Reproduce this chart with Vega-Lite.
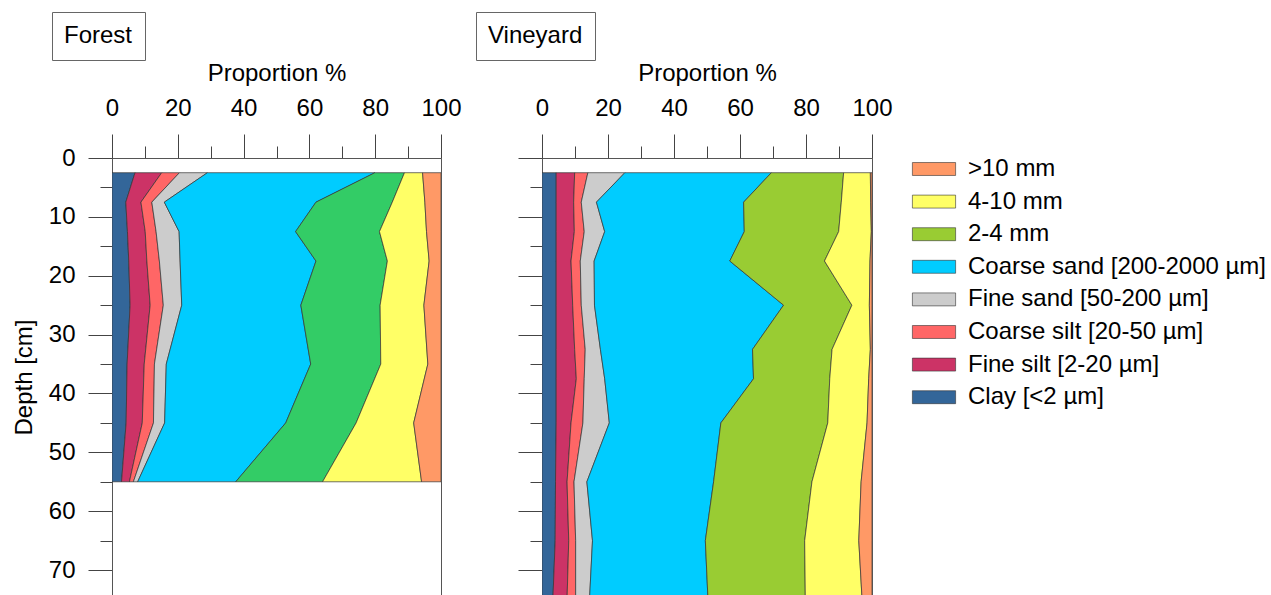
{
  "$schema": "https://vega.github.io/schema/vega-lite/v6.json",
  "background": "white",
  "padding": {"left": 11, "top": 11, "right": 5, "bottom": 0},
  "datasets": {
    "soil": [
      {"site": "Forest", "depth": 2.5, "clay": 7.0, "fsilt": 8.1, "csilt": 5.4, "fsand": 8.5, "csand": 50.9, "g2_4": 9.0, "g4_10": 5.5, "g10": 5.6},
      {"site": "Forest", "depth": 7.5, "clay": 4.2, "fsilt": 4.6, "csilt": 3.3, "fsand": 3.8, "csand": 46.1, "g2_4": 23.2, "g4_10": 9.9, "g10": 4.9},
      {"site": "Forest", "depth": 12.5, "clay": 4.7, "fsilt": 5.4, "csilt": 3.3, "fsand": 7.0, "csand": 35.4, "g2_4": 25.5, "g4_10": 14.3, "g10": 4.4},
      {"site": "Forest", "depth": 17.5, "clay": 5.1, "fsilt": 5.5, "csilt": 3.8, "fsand": 6.3, "csand": 41.3, "g2_4": 21.7, "g4_10": 12.7, "g10": 3.6},
      {"site": "Forest", "depth": 25, "clay": 5.5, "fsilt": 6.1, "csilt": 4.0, "fsand": 5.6, "csand": 36.2, "g2_4": 24.1, "g4_10": 13.3, "g10": 5.2},
      {"site": "Forest", "depth": 35, "clay": 4.6, "fsilt": 5.2, "csilt": 3.1, "fsand": 3.6, "csand": 43.9, "g2_4": 21.3, "g4_10": 14.3, "g10": 4.0},
      {"site": "Forest", "depth": 45, "clay": 4.3, "fsilt": 4.9, "csilt": 3.4, "fsand": 3.4, "csand": 36.8, "g2_4": 21.4, "g4_10": 17.5, "g10": 8.3},
      {"site": "Forest", "depth": 55, "clay": 2.9, "fsilt": 2.4, "csilt": 1.2, "fsand": 1.3, "csand": 29.8, "g2_4": 26.4, "g4_10": 30.1, "g10": 5.9},
      {"site": "Vineyard", "depth": 2.5, "clay": 4.3, "fsilt": 5.6, "csilt": 4.0, "fsand": 11.2, "csand": 44.4, "g2_4": 21.9, "g4_10": 8.1, "g10": 0.5},
      {"site": "Vineyard", "depth": 7.5, "clay": 4.3, "fsilt": 5.3, "csilt": 2.3, "fsand": 4.6, "csand": 44.6, "g2_4": 29.6, "g4_10": 8.9, "g10": 0.4},
      {"site": "Vineyard", "depth": 12.5, "clay": 4.3, "fsilt": 5.5, "csilt": 3.0, "fsand": 6.2, "csand": 42.3, "g2_4": 28.6, "g4_10": 9.9, "g10": 0.2},
      {"site": "Vineyard", "depth": 17.5, "clay": 4.3, "fsilt": 4.5, "csilt": 2.8, "fsand": 4.2, "csand": 41.1, "g2_4": 28.7, "g4_10": 13.8, "g10": 0.6},
      {"site": "Vineyard", "depth": 25, "clay": 4.3, "fsilt": 5.0, "csilt": 2.6, "fsand": 4.0, "csand": 57.3, "g2_4": 20.7, "g4_10": 5.3, "g10": 0.8},
      {"site": "Vineyard", "depth": 32.5, "clay": 4.3, "fsilt": 5.6, "csilt": 3.2, "fsand": 4.6, "csand": 46.1, "g2_4": 24.1, "g4_10": 11.6, "g10": 0.5},
      {"site": "Vineyard", "depth": 37.5, "clay": 4.3, "fsilt": 6.1, "csilt": 2.4, "fsand": 6.2, "csand": 45.1, "g2_4": 23.1, "g4_10": 11.8, "g10": 1.0},
      {"site": "Vineyard", "depth": 45, "clay": 4.3, "fsilt": 4.5, "csilt": 3.6, "fsand": 8.0, "csand": 33.8, "g2_4": 32.4, "g4_10": 11.9, "g10": 1.5},
      {"site": "Vineyard", "depth": 55, "clay": 4.1, "fsilt": 3.5, "csilt": 2.1, "fsand": 3.9, "csand": 38.4, "g2_4": 29.8, "g4_10": 14.9, "g10": 3.3},
      {"site": "Vineyard", "depth": 65, "clay": 4.0, "fsilt": 4.1, "csilt": 2.1, "fsand": 5.1, "csand": 34.2, "g2_4": 30.1, "g4_10": 16.4, "g10": 4.0},
      {"site": "Vineyard", "depth": 75, "clay": 3.3, "fsilt": 4.3, "csilt": 2.6, "fsand": 4.2, "csand": 35.9, "g2_4": 29.5, "g4_10": 17.2, "g10": 3.0}
    ],
    "fractions": [
      {"k": "clay", "name": "Clay [<2 µm]", "ord": 1},
      {"k": "fsilt", "name": "Fine silt [2-20 µm]", "ord": 2},
      {"k": "csilt", "name": "Coarse silt [20-50 µm]", "ord": 3},
      {"k": "fsand", "name": "Fine sand [50-200 µm]", "ord": 4},
      {"k": "csand", "name": "Coarse sand [200-2000 µm]", "ord": 5},
      {"k": "g2_4", "name": "2-4 mm", "ord": 6},
      {"k": "g4_10", "name": "4-10 mm", "ord": 7},
      {"k": "g10", "name": ">10 mm", "ord": 8}
    ]
  },
  "data": {"name": "soil"},
  "transform": [
    {"fold": ["clay", "fsilt", "csilt", "fsand", "csand", "g2_4", "g4_10", "g10"], "as": ["k", "pct"]},
    {"lookup": "k", "from": {"data": {"name": "fractions"}, "key": "k", "fields": ["name", "ord"]}}
  ],
  "spacing": 13,
  "resolve": {"scale": {"color": "independent", "shape": "independent"}, "legend": {"color": "independent", "shape": "independent"}},
  "hconcat": [
    {
      "width": 329,
      "height": 438,
      "transform": [{"filter": "datum.site === 'Forest'"}],
      "encoding": {
        "y": {"field": "depth", "type": "quantitative",
          "scale": {"domain": [0, 74.4], "reverse": true, "nice": false, "zero": false},
          "axis": {"orient": "left", "title": "Depth [cm]", "values": [0,5,10,15,20,25,30,35,40,45,50,55,60,65,70],
            "tickSize": {"condition": {"test": "datum.value % 10 === 0", "value": 24}, "value": 12},
            "labelExpr": "datum.value % 10 === 0 ? datum.label : ''", "labelPadding": 13, "titlePadding": 12}},
        "x": {"field": "pct", "type": "quantitative", "stack": "zero",
          "scale": {"domain": [0, 100], "nice": false},
          "axis": {"orient": "top", "title": "Proportion %", "values": [0,10,20,30,40,50,60,70,80,90,100],
            "tickSize": {"condition": {"test": "datum.value % 20 === 0", "value": 24}, "value": 12},
            "labelExpr": "datum.value % 20 === 0 ? datum.label : ''", "labelPadding": 14, "titlePadding": 11}}
      },
      "layer": [
        {
          "mark": {"type": "area", "orient": "horizontal", "stroke": "#333", "strokeWidth": 0.7, "clip": true},
          "encoding": {
            "color": {"field": "name", "type": "nominal",
              "scale": {"domain": [">10 mm", "4-10 mm", "2-4 mm", "Coarse sand [200-2000 µm]", "Fine sand [50-200 µm]", "Coarse silt [20-50 µm]", "Fine silt [2-20 µm]", "Clay [<2 µm]"],
                "range": ["#FF9966", "#FFFF66", "#33CC66", "#00CCFF", "#CCCCCC", "#FF6666", "#CC3366", "#336699"]},
              "legend": null},
            "order": {"field": "ord", "type": "quantitative", "sort": "ascending"}
          }
        },
        {
          "mark": {"type": "point", "opacity": 0, "clip": true},
          "encoding": {
            "shape": {"field": "site", "type": "nominal",
              "legend": {"orient": "none", "legendX": -60, "legendY": -146, "title": null, "strokeColor": "#666", "fillColor": "white", "padding": 12,
                "symbolSize": 0, "symbolOpacity": 0, "symbolStrokeWidth": 0, "labelOffset": -24, "labelFontSize": 24, "labelColor": "black", "labelLimit": 0}}
          }
        }
      ]
    },
    {
      "width": 330,
      "height": 438,
      "transform": [{"filter": "datum.site === 'Vineyard'"}],
      "encoding": {
        "y": {"field": "depth", "type": "quantitative",
          "scale": {"domain": [0, 74.4], "reverse": true, "nice": false, "zero": false},
          "axis": {"orient": "left", "title": null, "labels": false, "values": [0,5,10,15,20,25,30,35,40,45,50,55,60,65,70],
            "tickSize": {"condition": {"test": "datum.value % 10 === 0", "value": 24}, "value": 12}}},
        "x": {"field": "pct", "type": "quantitative", "stack": "zero",
          "scale": {"domain": [0, 100], "nice": false},
          "axis": {"orient": "top", "title": "Proportion %", "values": [0,10,20,30,40,50,60,70,80,90,100],
            "tickSize": {"condition": {"test": "datum.value % 20 === 0", "value": 24}, "value": 12},
            "labelExpr": "datum.value % 20 === 0 ? datum.label : ''", "labelPadding": 14, "titlePadding": 11}}
      },
      "layer": [
        {
          "mark": {"type": "area", "orient": "horizontal", "stroke": "#333", "strokeWidth": 0.7, "clip": true},
          "encoding": {
            "color": {"field": "name", "type": "nominal",
              "scale": {"domain": [">10 mm", "4-10 mm", "2-4 mm", "Coarse sand [200-2000 µm]", "Fine sand [50-200 µm]", "Coarse silt [20-50 µm]", "Fine silt [2-20 µm]", "Clay [<2 µm]"],
                "range": ["#FF9966", "#FFFF66", "#99CC33", "#00CCFF", "#CCCCCC", "#FF6666", "#CC3366", "#336699"]},
              "legend": {"orient": "none", "legendX": 378, "legendY": -3, "title": null, "symbolType": "M-1.6,-0.48H1.6V0.48H-1.6Z", "symbolSize": 729,
                "symbolStrokeColor": "#333", "symbolStrokeWidth": 0.6, "labelOffset": 20, "labelFontSize": 24, "labelColor": "black", "labelLimit": 0, "rowPadding": 6.6}},
            "order": {"field": "ord", "type": "quantitative", "sort": "ascending"}
          }
        },
        {
          "mark": {"type": "point", "opacity": 0, "clip": true},
          "encoding": {
            "shape": {"field": "site", "type": "nominal",
              "legend": {"orient": "none", "legendX": -66, "legendY": -146, "title": null, "strokeColor": "#666", "fillColor": "white", "padding": 12,
                "symbolSize": 0, "symbolOpacity": 0, "symbolStrokeWidth": 0, "labelOffset": -24, "labelFontSize": 24, "labelColor": "black", "labelLimit": 0}}
          }
        }
      ]
    }
  ],
  "config": {
    "font": "Liberation Sans",
    "view": {"stroke": "#555", "strokeWidth": 1},
    "axis": {"domainColor": "#555", "tickColor": "#444", "labelColor": "black", "titleColor": "black",
      "labelFontSize": 24, "titleFontSize": 24, "titleFontWeight": "normal", "grid": false, "labelFlush": false, "labelOverlap": false, "labelFont": "Liberation Sans", "titleFont": "Liberation Sans"},
    "legend": {"labelFont": "Liberation Sans"}
  }
}
